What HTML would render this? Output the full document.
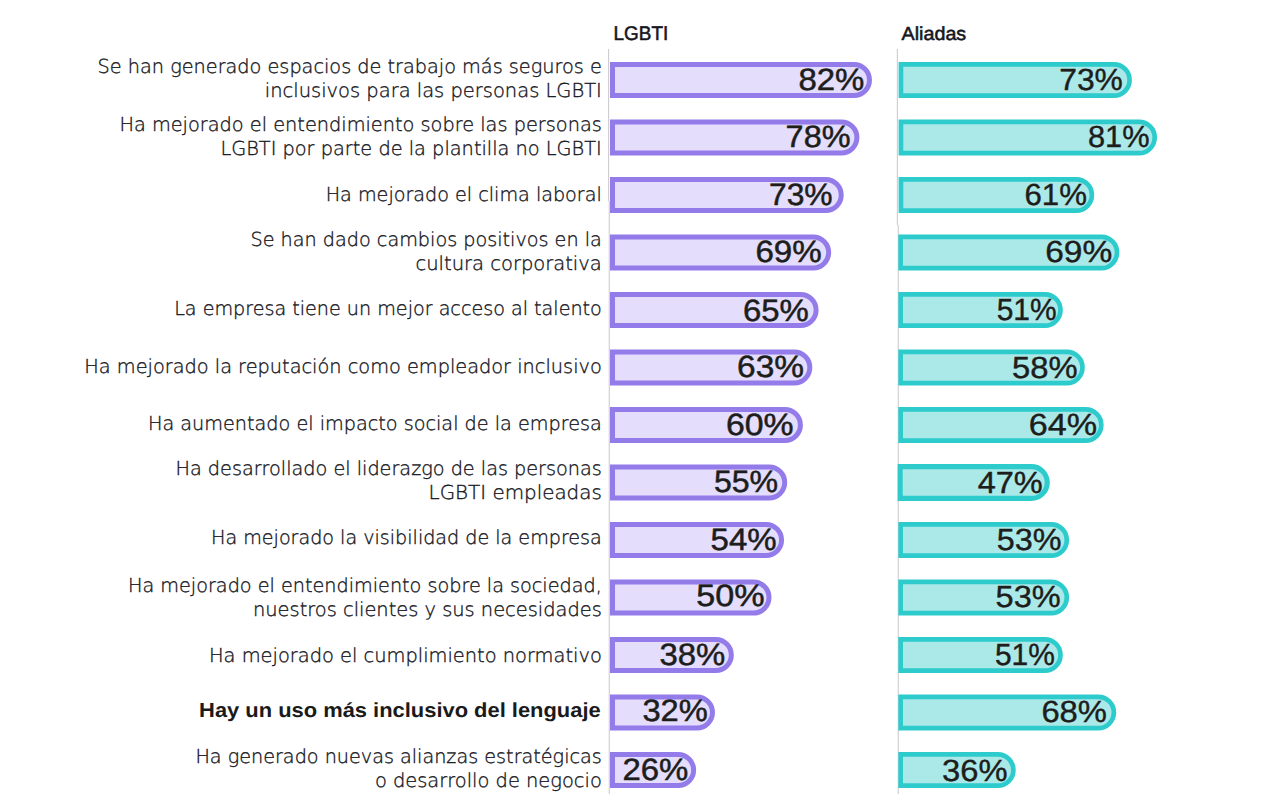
<!DOCTYPE html>
<html lang="es"><head><meta charset="utf-8"><title>LGBTI / Aliadas</title>
<style>html,body{margin:0;padding:0;background:#fff}svg{display:block}text{font-family:"Liberation Sans",Arial,sans-serif;text-rendering:geometricPrecision}.lb{font-family:"DejaVu Sans Light","DejaVu Sans","Liberation Sans",sans-serif;font-weight:200;font-size:19.15px;fill:#15151c;stroke:#15151c;stroke-width:0.35px}.bd{font-size:20.3px;font-weight:bold;fill:#1a1a1a}.hd{font-size:19.8px;fill:#16161d;stroke:#16161d;stroke-width:0.55px}.nl{font-size:30.8px;fill:#1d1d1b;stroke:#1d1d1b;stroke-width:0.5px}.na{font-size:30.6px;fill:#1d1d1b;stroke:#1d1d1b;stroke-width:0.4px}</style></head><body>
<svg width="1277" height="807" viewBox="0 0 1277 807">
<rect width="1277" height="807" fill="#fff"/>
<rect x="608" y="49" width="1.15" height="152" fill="#cfcfd3"/>
<rect x="608.7" y="201" width="1.15" height="593" fill="#cfcfd3"/>
<rect x="896.8" y="49" width="1.15" height="176" fill="#cfcfd3"/>
<rect x="897.7" y="225" width="1.15" height="569" fill="#cfcfd3"/>
<text class="hd" x="613.6" y="39.6" textLength="54.6" lengthAdjust="spacingAndGlyphs">LGBTI</text>
<text class="hd" style="font-size:18.9px" x="901.6" y="39.8" textLength="64.6" lengthAdjust="spacingAndGlyphs">Aliadas</text>
<text class="lb" x="97.6" y="73.4" textLength="504.2" lengthAdjust="spacingAndGlyphs">Se han generado espacios de trabajo más seguros e</text>
<text class="lb" x="264.8" y="97.2" textLength="337.0" lengthAdjust="spacingAndGlyphs">inclusivos para las personas LGBTI</text>
<path d="M612.50 64.50H853.98A15.50 15.50 0 0 1 853.98 95.50H612.50Z" fill="#E4DDFB" stroke="#947BEA" stroke-width="5.0"/>
<path d="M900.95 64.35H1113.92A15.65 15.65 0 0 1 1113.92 95.65H900.95Z" fill="#ABE9E9" stroke="#2DCBCB" stroke-width="4.7"/>
<text class="nl" x="798.50" y="89.6" textLength="65.90" lengthAdjust="spacingAndGlyphs">82%</text>
<text class="na" x="1059.20" y="89.8" textLength="63.70" lengthAdjust="spacingAndGlyphs">73%</text>
<text class="lb" x="119.4" y="131.1" textLength="482.4" lengthAdjust="spacingAndGlyphs">Ha mejorado el entendimiento sobre las personas</text>
<text class="lb" x="220.4" y="155.2" textLength="381.4" lengthAdjust="spacingAndGlyphs">LGBTI por parte de la plantilla no LGBTI</text>
<path d="M612.50 122.00H841.42A15.50 15.50 0 0 1 841.42 153.00H612.50Z" fill="#E4DDFB" stroke="#947BEA" stroke-width="5.0"/>
<path d="M900.95 121.85H1139.04A15.65 15.65 0 0 1 1139.04 153.15H900.95Z" fill="#ABE9E9" stroke="#2DCBCB" stroke-width="4.7"/>
<text class="nl" x="785.60" y="147.0" textLength="64.90" lengthAdjust="spacingAndGlyphs">78%</text>
<text class="na" x="1088.00" y="146.9" textLength="61.60" lengthAdjust="spacingAndGlyphs">81%</text>
<text class="lb" x="325.7" y="201.0" textLength="276.1" lengthAdjust="spacingAndGlyphs">Ha mejorado el clima laboral</text>
<path d="M612.50 179.50H825.72A15.50 15.50 0 0 1 825.72 210.50H612.50Z" fill="#E4DDFB" stroke="#947BEA" stroke-width="5.0"/>
<path d="M900.95 179.35H1076.24A15.65 15.65 0 0 1 1076.24 210.65H900.95Z" fill="#ABE9E9" stroke="#2DCBCB" stroke-width="4.7"/>
<text class="nl" x="769.00" y="204.7" textLength="63.60" lengthAdjust="spacingAndGlyphs">73%</text>
<text class="na" x="1024.50" y="204.9" textLength="62.50" lengthAdjust="spacingAndGlyphs">61%</text>
<text class="lb" x="250.5" y="245.5" textLength="351.3" lengthAdjust="spacingAndGlyphs">Se han dado cambios positivos en la</text>
<text class="lb" x="415.5" y="269.6" textLength="186.3" lengthAdjust="spacingAndGlyphs">cultura corporativa</text>
<path d="M612.50 237.00H813.16A15.50 15.50 0 0 1 813.16 268.00H612.50Z" fill="#E4DDFB" stroke="#947BEA" stroke-width="5.0"/>
<path d="M900.65 236.85H1101.36A15.65 15.65 0 0 1 1101.36 268.15H900.65Z" fill="#ABE9E9" stroke="#2DCBCB" stroke-width="4.7"/>
<text class="nl" x="755.40" y="261.6" textLength="66.30" lengthAdjust="spacingAndGlyphs">69%</text>
<text class="na" x="1045.20" y="262.4" textLength="67.10" lengthAdjust="spacingAndGlyphs">69%</text>
<text class="lb" x="174.2" y="314.7" textLength="427.6" lengthAdjust="spacingAndGlyphs">La empresa tiene un mejor acceso al talento</text>
<path d="M612.50 294.50H800.60A15.50 15.50 0 0 1 800.60 325.50H612.50Z" fill="#E4DDFB" stroke="#947BEA" stroke-width="5.0"/>
<path d="M900.65 294.35H1044.84A15.65 15.65 0 0 1 1044.84 325.65H900.65Z" fill="#ABE9E9" stroke="#2DCBCB" stroke-width="4.7"/>
<text class="nl" x="743.00" y="320.8" textLength="65.90" lengthAdjust="spacingAndGlyphs">65%</text>
<text class="na" x="996.70" y="320.2" textLength="60.00" lengthAdjust="spacingAndGlyphs">51%</text>
<text class="lb" x="84.3" y="372.6" textLength="517.5" lengthAdjust="spacingAndGlyphs">Ha mejorado la reputación como empleador inclusivo</text>
<path d="M612.50 352.00H794.32A15.50 15.50 0 0 1 794.32 383.00H612.50Z" fill="#E4DDFB" stroke="#947BEA" stroke-width="5.0"/>
<path d="M900.65 351.85H1066.82A15.65 15.65 0 0 1 1066.82 383.15H900.65Z" fill="#ABE9E9" stroke="#2DCBCB" stroke-width="4.7"/>
<text class="nl" x="737.10" y="376.6" textLength="66.90" lengthAdjust="spacingAndGlyphs">63%</text>
<text class="na" x="1012.10" y="377.9" textLength="65.60" lengthAdjust="spacingAndGlyphs">58%</text>
<text class="lb" x="148.0" y="429.5" textLength="453.8" lengthAdjust="spacingAndGlyphs">Ha aumentado el impacto social de la empresa</text>
<path d="M612.50 409.50H784.90A15.50 15.50 0 0 1 784.90 440.50H612.50Z" fill="#E4DDFB" stroke="#947BEA" stroke-width="5.0"/>
<path d="M900.65 409.35H1085.66A15.65 15.65 0 0 1 1085.66 440.65H900.65Z" fill="#ABE9E9" stroke="#2DCBCB" stroke-width="4.7"/>
<text class="nl" x="725.90" y="434.5" textLength="67.60" lengthAdjust="spacingAndGlyphs">60%</text>
<text class="na" x="1028.70" y="435.0" textLength="68.40" lengthAdjust="spacingAndGlyphs">64%</text>
<text class="lb" x="175.5" y="474.8" textLength="426.3" lengthAdjust="spacingAndGlyphs">Ha desarrollado el liderazgo de las personas</text>
<text class="lb" x="428.6" y="498.8" textLength="173.2" lengthAdjust="spacingAndGlyphs">LGBTI empleadas</text>
<path d="M612.50 467.00H769.20A15.50 15.50 0 0 1 769.20 498.00H612.50Z" fill="#E4DDFB" stroke="#947BEA" stroke-width="5.0"/>
<path d="M900.15 466.65H1031.38A15.85 15.85 0 0 1 1031.38 498.35H900.15Z" fill="#ABE9E9" stroke="#2DCBCB" stroke-width="5.1"/>
<text class="nl" x="713.90" y="492.0" textLength="64.30" lengthAdjust="spacingAndGlyphs">55%</text>
<text class="na" x="977.70" y="492.6" textLength="65.10" lengthAdjust="spacingAndGlyphs">47%</text>
<text class="lb" x="211.0" y="544.1" textLength="390.8" lengthAdjust="spacingAndGlyphs">Ha mejorado la visibilidad de la empresa</text>
<path d="M612.50 524.50H766.06A15.50 15.50 0 0 1 766.06 555.50H612.50Z" fill="#E4DDFB" stroke="#947BEA" stroke-width="5.0"/>
<path d="M900.65 524.35H1051.12A15.65 15.65 0 0 1 1051.12 555.65H900.65Z" fill="#ABE9E9" stroke="#2DCBCB" stroke-width="4.7"/>
<text class="nl" x="710.60" y="549.8" textLength="66.10" lengthAdjust="spacingAndGlyphs">54%</text>
<text class="na" x="996.70" y="549.9" textLength="64.80" lengthAdjust="spacingAndGlyphs">53%</text>
<text class="lb" x="128.0" y="592.1" textLength="473.8" lengthAdjust="spacingAndGlyphs">Ha mejorado el entendimiento sobre la sociedad,</text>
<text class="lb" x="253.0" y="616.3" textLength="348.8" lengthAdjust="spacingAndGlyphs">nuestros clientes y sus necesidades</text>
<path d="M612.50 582.00H753.50A15.50 15.50 0 0 1 753.50 613.00H612.50Z" fill="#E4DDFB" stroke="#947BEA" stroke-width="5.0"/>
<path d="M900.65 581.85H1051.12A15.65 15.65 0 0 1 1051.12 613.15H900.65Z" fill="#ABE9E9" stroke="#2DCBCB" stroke-width="4.7"/>
<text class="nl" x="696.30" y="606.4" textLength="68.30" lengthAdjust="spacingAndGlyphs">50%</text>
<text class="na" x="995.60" y="607.1" textLength="65.10" lengthAdjust="spacingAndGlyphs">53%</text>
<text class="lb" x="209.0" y="661.7" textLength="392.8" lengthAdjust="spacingAndGlyphs">Ha mejorado el cumplimiento normativo</text>
<path d="M612.50 639.50H715.82A15.50 15.50 0 0 1 715.82 670.50H612.50Z" fill="#E4DDFB" stroke="#947BEA" stroke-width="5.0"/>
<path d="M900.65 639.35H1044.84A15.65 15.65 0 0 1 1044.84 670.65H900.65Z" fill="#ABE9E9" stroke="#2DCBCB" stroke-width="4.7"/>
<text class="nl" x="659.40" y="664.5" textLength="65.80" lengthAdjust="spacingAndGlyphs">38%</text>
<text class="na" x="994.90" y="664.7" textLength="60.00" lengthAdjust="spacingAndGlyphs">51%</text>
<text class="bd" x="199.1" y="717.4" textLength="401.6" lengthAdjust="spacingAndGlyphs">Hay un uso más inclusivo del lenguaje</text>
<path d="M612.50 697.00H696.98A15.50 15.50 0 0 1 696.98 728.00H612.50Z" fill="#E4DDFB" stroke="#947BEA" stroke-width="5.0"/>
<path d="M900.65 696.85H1098.22A15.65 15.65 0 0 1 1098.22 728.15H900.65Z" fill="#ABE9E9" stroke="#2DCBCB" stroke-width="4.7"/>
<text class="nl" x="642.40" y="721.2" textLength="65.40" lengthAdjust="spacingAndGlyphs">32%</text>
<text class="na" x="1041.40" y="722.0" textLength="65.60" lengthAdjust="spacingAndGlyphs">68%</text>
<text class="lb" x="195.4" y="763.3" textLength="406.4" lengthAdjust="spacingAndGlyphs">Ha generado nuevas alianzas estratégicas</text>
<text class="lb" x="374.9" y="786.9" textLength="226.9" lengthAdjust="spacingAndGlyphs">o desarrollo de negocio</text>
<path d="M612.50 754.50H678.14A15.50 15.50 0 0 1 678.14 785.50H612.50Z" fill="#E4DDFB" stroke="#947BEA" stroke-width="5.0"/>
<path d="M900.65 754.35H997.74A15.65 15.65 0 0 1 997.74 785.65H900.65Z" fill="#ABE9E9" stroke="#2DCBCB" stroke-width="4.7"/>
<text class="nl" x="622.40" y="779.5" textLength="65.90" lengthAdjust="spacingAndGlyphs">26%</text>
<text class="na" x="942.00" y="780.7" textLength="65.50" lengthAdjust="spacingAndGlyphs">36%</text>
</svg></body></html>
